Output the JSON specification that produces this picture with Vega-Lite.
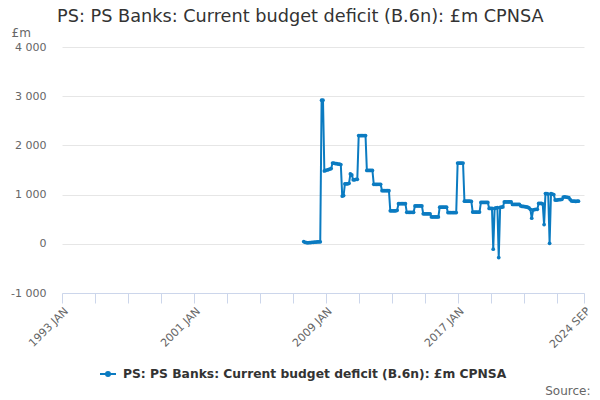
{
"$schema":"https://vega.github.io/schema/vega-lite/v6.json",
"autosize":"none","width":522,"height":246,
"padding":{"left":62,"top":47,"right":16,"bottom":107},
"background":"white",
"config":{"font":"DejaVu Sans","view":{"stroke":null}},
"title":{"text":"PS: PS Banks: Current budget deficit (B.6n): £m CPNSA","anchor":"start","frame":"group","dx":-5,"offset":0,"fontSize":17.7,"fontWeight":"normal","color":"#333"},
"data":{"values":[
{"month":"2007-09-01","value":45},{"month":"2007-10-01","value":30},{"month":"2007-11-01","value":25},{"month":"2007-12-01","value":20},
{"month":"2008-01-01","value":25},{"month":"2008-02-01","value":25},{"month":"2008-03-01","value":30},{"month":"2008-04-01","value":30},{"month":"2008-05-01","value":35},{"month":"2008-06-01","value":35},{"month":"2008-07-01","value":40},{"month":"2008-08-01","value":40},{"month":"2008-09-01","value":40},{"month":"2008-10-01","value":2920},{"month":"2008-11-01","value":2920},{"month":"2008-12-01","value":1480},
{"month":"2009-01-01","value":1490},{"month":"2009-02-01","value":1500},{"month":"2009-03-01","value":1510},{"month":"2009-04-01","value":1520},{"month":"2009-05-01","value":1530},{"month":"2009-06-01","value":1640},{"month":"2009-07-01","value":1640},{"month":"2009-08-01","value":1630},{"month":"2009-09-01","value":1630},{"month":"2009-10-01","value":1620},{"month":"2009-11-01","value":1620},{"month":"2009-12-01","value":1610},
{"month":"2010-01-01","value":970},{"month":"2010-02-01","value":980},{"month":"2010-03-01","value":1220},{"month":"2010-04-01","value":1220},{"month":"2010-05-01","value":1220},{"month":"2010-06-01","value":1230},{"month":"2010-07-01","value":1420},{"month":"2010-08-01","value":1400},{"month":"2010-09-01","value":1300},{"month":"2010-10-01","value":1300},{"month":"2010-11-01","value":1310},{"month":"2010-12-01","value":1310},
{"month":"2011-01-01","value":2200},{"month":"2011-02-01","value":2200},{"month":"2011-03-01","value":2200},{"month":"2011-04-01","value":2200},{"month":"2011-05-01","value":2200},{"month":"2011-06-01","value":2200},{"month":"2011-07-01","value":1490},{"month":"2011-08-01","value":1490},{"month":"2011-09-01","value":1490},{"month":"2011-10-01","value":1490},{"month":"2011-11-01","value":1490},{"month":"2011-12-01","value":1210},
{"month":"2012-01-01","value":1210},{"month":"2012-02-01","value":1210},{"month":"2012-03-01","value":1210},{"month":"2012-04-01","value":1210},{"month":"2012-05-01","value":1210},{"month":"2012-06-01","value":1080},{"month":"2012-07-01","value":1080},{"month":"2012-08-01","value":1080},{"month":"2012-09-01","value":1080},{"month":"2012-10-01","value":1080},{"month":"2012-11-01","value":1080},{"month":"2012-12-01","value":670},
{"month":"2013-01-01","value":670},{"month":"2013-02-01","value":670},{"month":"2013-03-01","value":670},{"month":"2013-04-01","value":670},{"month":"2013-05-01","value":680},{"month":"2013-06-01","value":815},{"month":"2013-07-01","value":815},{"month":"2013-08-01","value":815},{"month":"2013-09-01","value":815},{"month":"2013-10-01","value":815},{"month":"2013-11-01","value":815},{"month":"2013-12-01","value":640},
{"month":"2014-01-01","value":640},{"month":"2014-02-01","value":640},{"month":"2014-03-01","value":640},{"month":"2014-04-01","value":640},{"month":"2014-05-01","value":640},{"month":"2014-06-01","value":770},{"month":"2014-07-01","value":770},{"month":"2014-08-01","value":770},{"month":"2014-09-01","value":770},{"month":"2014-10-01","value":770},{"month":"2014-11-01","value":770},{"month":"2014-12-01","value":610},
{"month":"2015-01-01","value":610},{"month":"2015-02-01","value":610},{"month":"2015-03-01","value":610},{"month":"2015-04-01","value":610},{"month":"2015-05-01","value":610},{"month":"2015-06-01","value":545},{"month":"2015-07-01","value":545},{"month":"2015-08-01","value":545},{"month":"2015-09-01","value":545},{"month":"2015-10-01","value":545},{"month":"2015-11-01","value":545},{"month":"2015-12-01","value":745},
{"month":"2016-01-01","value":745},{"month":"2016-02-01","value":745},{"month":"2016-03-01","value":745},{"month":"2016-04-01","value":745},{"month":"2016-05-01","value":745},{"month":"2016-06-01","value":635},{"month":"2016-07-01","value":635},{"month":"2016-08-01","value":635},{"month":"2016-09-01","value":635},{"month":"2016-10-01","value":635},{"month":"2016-11-01","value":635},{"month":"2016-12-01","value":635},
{"month":"2017-01-01","value":1640},{"month":"2017-02-01","value":1640},{"month":"2017-03-01","value":1640},{"month":"2017-04-01","value":1640},{"month":"2017-05-01","value":1640},{"month":"2017-06-01","value":865},{"month":"2017-07-01","value":865},{"month":"2017-08-01","value":865},{"month":"2017-09-01","value":865},{"month":"2017-10-01","value":865},{"month":"2017-11-01","value":860},{"month":"2017-12-01","value":645},
{"month":"2018-01-01","value":645},{"month":"2018-02-01","value":645},{"month":"2018-03-01","value":645},{"month":"2018-04-01","value":645},{"month":"2018-05-01","value":645},{"month":"2018-06-01","value":840},{"month":"2018-07-01","value":840},{"month":"2018-08-01","value":840},{"month":"2018-09-01","value":840},{"month":"2018-10-01","value":840},{"month":"2018-11-01","value":840},{"month":"2018-12-01","value":720},
{"month":"2019-01-01","value":720},{"month":"2019-02-01","value":720},{"month":"2019-03-01","value":-110},{"month":"2019-04-01","value":720},{"month":"2019-05-01","value":730},{"month":"2019-06-01","value":735},{"month":"2019-07-01","value":-280},{"month":"2019-08-01","value":740},{"month":"2019-09-01","value":745},{"month":"2019-10-01","value":750},{"month":"2019-11-01","value":850},{"month":"2019-12-01","value":850},
{"month":"2020-01-01","value":850},{"month":"2020-02-01","value":850},{"month":"2020-03-01","value":850},{"month":"2020-04-01","value":850},{"month":"2020-05-01","value":800},{"month":"2020-06-01","value":800},{"month":"2020-07-01","value":800},{"month":"2020-08-01","value":800},{"month":"2020-09-01","value":800},{"month":"2020-10-01","value":800},{"month":"2020-11-01","value":770},{"month":"2020-12-01","value":760},
{"month":"2021-01-01","value":760},{"month":"2021-02-01","value":755},{"month":"2021-03-01","value":750},{"month":"2021-04-01","value":745},{"month":"2021-05-01","value":730},{"month":"2021-06-01","value":700},{"month":"2021-07-01","value":520},{"month":"2021-08-01","value":690},{"month":"2021-09-01","value":695},{"month":"2021-10-01","value":700},{"month":"2021-11-01","value":700},{"month":"2021-12-01","value":820},
{"month":"2022-01-01","value":820},{"month":"2022-02-01","value":820},{"month":"2022-03-01","value":810},{"month":"2022-04-01","value":390},{"month":"2022-05-01","value":1020},{"month":"2022-06-01","value":1020},{"month":"2022-07-01","value":1010},{"month":"2022-08-01","value":10},{"month":"2022-09-01","value":1020},{"month":"2022-10-01","value":1010},{"month":"2022-11-01","value":1000},{"month":"2022-12-01","value":890},
{"month":"2023-01-01","value":890},{"month":"2023-02-01","value":895},{"month":"2023-03-01","value":900},{"month":"2023-04-01","value":900},{"month":"2023-05-01","value":905},{"month":"2023-06-01","value":950},{"month":"2023-07-01","value":955},{"month":"2023-08-01","value":950},{"month":"2023-09-01","value":945},{"month":"2023-10-01","value":940},{"month":"2023-11-01","value":900},{"month":"2023-12-01","value":870},
{"month":"2024-01-01","value":865},{"month":"2024-02-01","value":865},{"month":"2024-03-01","value":860},{"month":"2024-04-01","value":865},{"month":"2024-05-01","value":865}
]},
"mark":{"type":"line","strokeWidth":2,"point":{"filled":true,"size":14}},
"encoding":{
"x":{"field":"month","type":"temporal",
"scale":{"type":"utc","domain":[{"year":1993,"month":1,"date":1,"utc":true},{"year":2024,"month":9,"date":1,"utc":true}]},
"axis":{"values":[
{"year":1993,"month":1,"date":1,"utc":true},{"year":1995,"month":1,"date":1,"utc":true},{"year":1997,"month":1,"date":1,"utc":true},{"year":1999,"month":1,"date":1,"utc":true},{"year":2001,"month":1,"date":1,"utc":true},{"year":2003,"month":1,"date":1,"utc":true},{"year":2005,"month":1,"date":1,"utc":true},{"year":2007,"month":1,"date":1,"utc":true},{"year":2009,"month":1,"date":1,"utc":true},{"year":2011,"month":1,"date":1,"utc":true},{"year":2013,"month":1,"date":1,"utc":true},{"year":2015,"month":1,"date":1,"utc":true},{"year":2017,"month":1,"date":1,"utc":true},{"year":2019,"month":1,"date":1,"utc":true},{"year":2021,"month":1,"date":1,"utc":true},{"year":2023,"month":1,"date":1,"utc":true},{"year":2024,"month":9,"date":1,"utc":true}],
"labelExpr":"(utcmonth(datum.value)==8 || (utcyear(datum.value)-1993)%8==0) ? upper(utcFormat(datum.value, '%Y %b')) : ''",
"labelAngle":-45,"labelOverlap":false,"labelFlush":false,"grid":false,
"tickColor":"#ccd6eb","tickSize":10,"domainColor":"#ccd6eb","labelColor":"#666","labelFontSize":11,
"title":"Source:","titleX":528,"titleY":97,"titleAlign":"right","titleBaseline":"middle","titleFontWeight":"normal","titleColor":"#666","titleFontSize":12}},
"y":{"field":"value","type":"quantitative",
"scale":{"domain":[-1000,4000],"nice":false},
"axis":{"values":[-1000,0,1000,2000,3000,4000],
"labelExpr":"(datum.value<0?'-':'') + replace(format(abs(datum.value), ','), ',', ' ')",
"domain":false,"ticks":false,"gridColor":"#e6e6e6","labelColor":"#666","labelFontSize":11,"labelPadding":16,
"title":"£m","titleAngle":0,"titleAlign":"left","titleX":-51,"titleY":-15,"titleBaseline":"middle","titleFontWeight":"normal","titleColor":"#666","titleFontSize":12}},
"color":{"datum":"PS: PS Banks: Current budget deficit (B.6n): £m CPNSA","type":"nominal",
"scale":{"range":["#0b7bc1"]},
"legend":{"title":null,"orient":"none","legendX":37,"legendY":318,"labelLimit":600,
"labelFontSize":12.3,"labelFontWeight":"bold","labelColor":"#333","labelOffset":6,
"encode":{"symbols":{"update":{"shape":{"value":"M-1,0H1M-0.25,0A0.25,0.25,0,1,0,0.25,0A0.25,0.25,0,1,0,-0.25,0"},"size":{"value":256},"fill":{"value":"#0b7bc1"},"stroke":{"value":"#0b7bc1"},"strokeWidth":{"value":2},"opacity":{"value":1}}}}}}
}
}
